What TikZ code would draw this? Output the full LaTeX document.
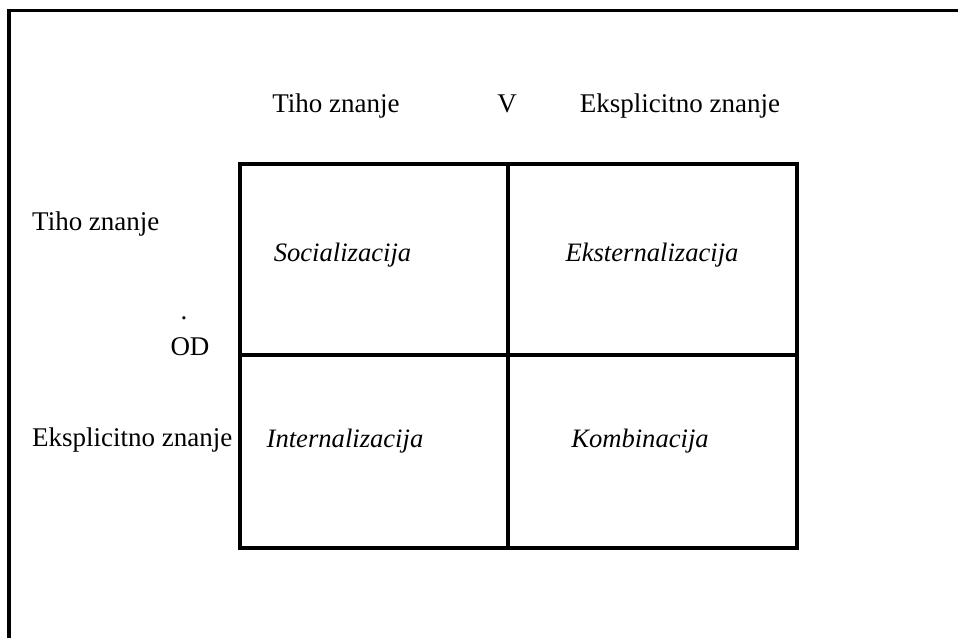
\documentclass[tikz,border=0pt]{standalone}
\usepackage{fontspec}
\setmainfont{Liberation Serif}
\begin{document}
\begin{tikzpicture}[x=1pt,y=-1pt,
  lbl/.style={inner sep=0pt,anchor=base,font=\fontsize{27}{31}\selectfont},
  cell/.style={inner sep=0pt,anchor=base,font=\fontsize{26.6}{31}\selectfont\itshape},
  gridline/.style={line width=4pt,line cap=rect}]
\useasboundingbox (0,0) rectangle (958,637);
% outer frame, open to the right and bottom
\draw[line width=3.5pt] (9,642) -- (9,10.5) -- (962,10.5);
% grid corners
\coordinate (tl) at (239.5,164);
\coordinate (tm) at (508,164);
\coordinate (tr) at (797,164);
\coordinate (ml) at (239.5,355);
\coordinate (mr) at (797,355);
\coordinate (bl) at (239.5,547.5);
\coordinate (bm) at (508,547.5);
\coordinate (br) at (797,547.5);
\draw[gridline] (tl) rectangle (br);
\draw[gridline] (tm) -- (bm);
\draw[gridline] (ml) -- (mr);
% column headings
\node[lbl] (h1) at (336,112) {Tiho znanje};
\node[lbl] (hv) at (507,112) {V};
\node[lbl] (h2) at (680,112) {Eksplicitno znanje};
% row headings
\node[lbl,anchor=base west] (r1) at (32,230) {Tiho znanje};
\node[lbl] (dot) at (184,319) {.};
\node[lbl] (od) at (190,355) {OD};
\node[lbl,anchor=base west] (r2) at (32,446) {Eksplicitno znanje};
% quadrants
\node[cell] (q1) at (342.5,261) {Socializacija};
\node[cell] (q2) at (652,261) {Eksternalizacija};
\node[cell] (q3) at (345,447) {Internalizacija};
\node[cell] (q4) at (640,447) {Kombinacija};
\end{tikzpicture}
\end{document}
